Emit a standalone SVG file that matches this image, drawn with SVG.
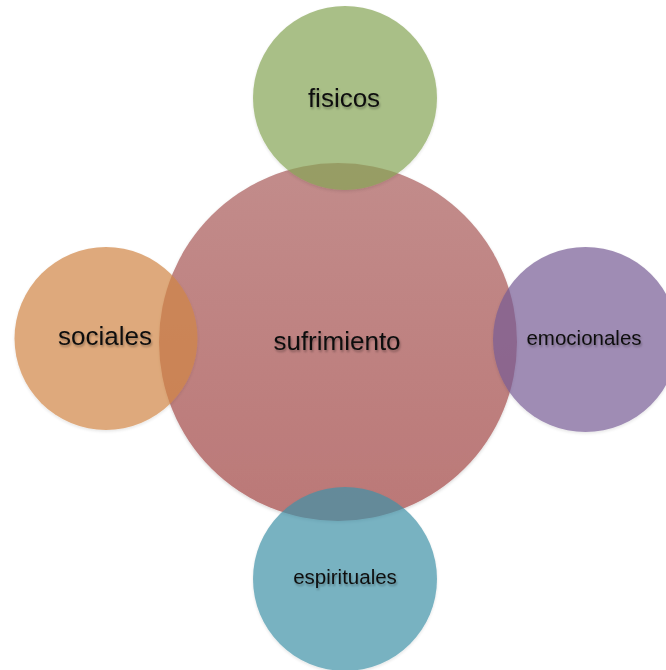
<svg xmlns="http://www.w3.org/2000/svg" width="666" height="670" viewBox="0 0 666 670">
  <defs>
    <linearGradient id="gRed" x1="0" y1="0" x2="0" y2="1">
      <stop offset="0" stop-color="#c28c8b"/>
      <stop offset="1" stop-color="#bb7877"/>
    </linearGradient>
    <filter id="txtShadow" x="-20%" y="-50%" width="140%" height="200%">
      <feDropShadow dx="1" dy="2" stdDeviation="1.2" flood-color="#000" flood-opacity="0.3"/>
    </filter>
    <filter id="circShadow" x="-10%" y="-10%" width="120%" height="120%">
      <feDropShadow dx="0" dy="1.5" stdDeviation="1.5" flood-color="#000" flood-opacity="0.15"/>
    </filter>
  </defs>
  <style>
    .lbl { font-family: "Liberation Sans", Arial, sans-serif; fill: #111; text-anchor: middle; filter: url(#txtShadow); }
    .big { font-size: 26px; }
    .small { font-size: 20.5px; }
    .sat { opacity: 0.7; filter: url(#circShadow); }
  </style>
  <rect width="666" height="670" fill="#ffffff"/>
  <g id="connectors"/>
  <g id="sufrimiento">
    <circle cx="338" cy="342" r="179" fill="url(#gRed)" filter="url(#circShadow)"/>
  </g>
  <g id="fisicos">
    <circle class="sat" cx="345" cy="98" r="92" fill="#86a555"/>
  </g>
  <g id="sociales">
    <circle class="sat" cx="106" cy="338.5" r="91.5" fill="#d18645"/>
  </g>
  <g id="emocionales">
    <circle class="sat" cx="585.5" cy="339.5" r="92.5" fill="#775c95"/>
  </g>
  <g id="espirituales">
    <circle class="sat" cx="345" cy="579" r="92" fill="#4192a8"/>
  </g>
  <g id="labels">
    <text class="lbl big" x="337" y="350">sufrimiento</text>
    <text class="lbl big" x="344" y="107">fisicos</text>
    <text class="lbl big" x="105" y="345">sociales</text>
    <text class="lbl small" x="584" y="345">emocionales</text>
    <text class="lbl small" x="345" y="584">espirituales</text>
  </g>
</svg>
